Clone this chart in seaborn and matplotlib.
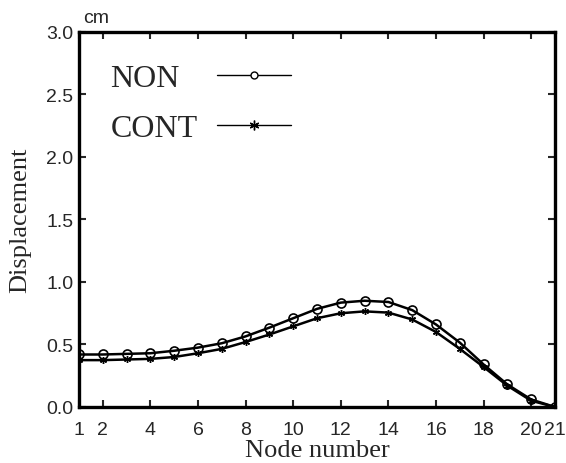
import matplotlib
matplotlib.use("Agg")
import matplotlib.pyplot as plt
from matplotlib.lines import Line2D
import pandas as pd
import seaborn as sns

# data
nodes = list(range(1, 22))
non = [0.42, 0.42, 0.425, 0.43, 0.45, 0.475, 0.51, 0.565, 0.635, 0.71, 0.785,
       0.835, 0.85, 0.84, 0.775, 0.66, 0.515, 0.34, 0.18, 0.06, 0.0]
cont = [0.375, 0.375, 0.38, 0.385, 0.40, 0.43, 0.465, 0.52, 0.58, 0.645, 0.71,
        0.75, 0.765, 0.755, 0.70, 0.60, 0.465, 0.32, 0.17, 0.05, 0.0]
xticks = [1, 2, 4, 6, 8, 10, 12, 14, 16, 18, 20, 21]
yticks = [0.0, 0.5, 1.0, 1.5, 2.0, 2.5, 3.0]
labels = ["NON", "CONT"]

df = pd.DataFrame({"node": nodes, "NON": non, "CONT": cont})

sns.set_style("ticks")
plt.rcParams["font.family"] = ["Liberation Sans", "DejaVu Sans"]
serif = ["Liberation Serif", "DejaVu Serif"]

fig = plt.figure(figsize=(5.66, 4.64), dpi=100)
ax = fig.add_axes([0.1396, 0.1207, 0.8410, 0.8082])

sns.lineplot(data=df, x="node", y="NON", ax=ax, color="black", lw=1.8,
             marker="o", markersize=6.5, markerfacecolor="none",
             markeredgecolor="black", markeredgewidth=1.2)
sns.lineplot(data=df, x="node", y="CONT", ax=ax, color="black", lw=1.8,
             marker=(6, 2, 0), markersize=5, markeredgecolor="black",
             markeredgewidth=1.0)

ax.set_xlim(1, 21)
ax.set_ylim(0, 3.0)
ax.set_xticks(xticks)
ax.set_yticks(yticks)
ax.set_yticklabels([f"{v:.1f}" for v in yticks])
ax.tick_params(direction="in", length=5, width=1.5, labelsize=14,
               top=True, right=True)
ax.tick_params(axis="x", pad=10)
ax.tick_params(axis="y", pad=4)
for s in ax.spines.values():
    s.set_linewidth(2.4)
    s.set_color("black")

ax.set_xlabel("Node number", fontsize=19, family=serif, labelpad=0.5)
ax.set_ylabel("Displacement", fontsize=19, family=serif, labelpad=11)
ax.text(0.008, 1.027, "cm", transform=ax.transAxes, fontsize=14,
        ha="left", va="baseline")

# legend: labels in the first column, line samples in the second
blank = Line2D([], [], linestyle="none")
h_non = Line2D([], [], color="black", lw=1.0, marker="o", markersize=5,
               markerfacecolor="white", markeredgecolor="black",
               markeredgewidth=1.0)
h_cont = Line2D([], [], color="black", lw=1.0, marker=(6, 2, 0),
                markersize=7, markeredgecolor="black", markeredgewidth=1.0)
leg = ax.legend(handles=[blank, blank, h_non, h_cont],
                labels=labels + ["", ""], ncols=2, loc="upper left",
                bbox_to_anchor=(-0.096, 0.915), frameon=False,
                prop={"family": serif, "size": 23},
                handlelength=2.32, handletextpad=0.1, columnspacing=0.6,
                labelspacing=0.64, numpoints=1, borderpad=0,
                borderaxespad=0)

fig.savefig("out.png", dpi=100)
